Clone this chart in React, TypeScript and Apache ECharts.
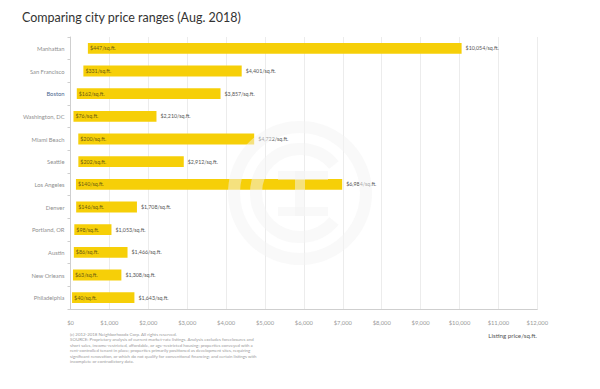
import React, { useEffect, useRef } from "react";
import * as echarts from "echarts";

const cities = [
  "Manhattan",
  "San Francisco",
  "Boston",
  "Washington, DC",
  "Miami Beach",
  "Seattle",
  "Los Angeles",
  "Denver",
  "Portland, OR",
  "Austin",
  "New Orleans",
  "Philadelphia",
];
const minPrice = [447, 331, 162, 76, 200, 202, 140, 146, 98, 86, 63, 40];
const maxPrice = [10054, 4401, 3857, 2210, 4722, 2912, 6984, 1708, 1053, 1466, 1308, 1643];
const xTicks = { min: 0, max: 12000, interval: 1000 };

const titleText = "Comparing city price ranges (Aug. 2018)";
const axisName = "Listing price/sq.ft.";
const footnote = [
  "(c) 2012-2018 Neighborhoodx Corp. All rights reserved.",
  "SOURCE: Proprietary analysis of current market-rate listings. Analysis excludes foreclosures and",
  "short sales, income-restricted, affordable, or age-restricted housing; properties conveyed with a",
  "rent-controlled tenant in place; properties primarily positioned as development sites, requiring",
  "significant renovation, or which do not qualify for conventional financing; and certain listings with",
  "incomplete or contradictory data.",
];

const FONT = "Lato, 'Noto Sans', sans-serif";
const fmt = (v: number) => "$" + v.toLocaleString("en-US");

export default function App() {
  const ref = useRef<HTMLDivElement>(null);
  useEffect(() => {
    document.body.style.margin = "0";
    if (!ref.current) return;
    const chart = echarts.init(ref.current, undefined, { renderer: "svg" });
    const wm = "rgba(244,244,244,0.5)";
    const cx = 300;
    const cy = 193;
    chart.setOption({
      animation: false,
      backgroundColor: "#fff",
      textStyle: { fontFamily: FONT },
      grid: { left: 70.5, right: 62.7, top: 37, bottom: 80 },
      xAxis: {
        type: "value",
        min: xTicks.min,
        max: xTicks.max,
        interval: xTicks.interval,
        axisLine: { show: true, lineStyle: { color: "#cfcfcf" } },
        axisTick: { show: false },
        splitLine: { show: true, lineStyle: { color: "#ececec" } },
        axisLabel: { formatter: (v: number) => fmt(v), fontSize: 5.8, color: "#9a9a9a", margin: 10 },
      },
      yAxis: {
        type: "category",
        data: cities,
        inverse: true,
        axisLine: { show: true, lineStyle: { color: "#cfcfcf" } },
        axisTick: { show: true, length: 3, lineStyle: { color: "#cfcfcf" } },
        axisLabel: {
          fontSize: 5.8,
          margin: 6,
          color: (v: string) => (v === "Boston" ? "#4a6790" : "#8f8f8f"),
        },
      },
      series: [
        {
          type: "bar",
          name: "max",
          data: maxPrice,
          barCategoryGap: "52%",
          barGap: "-100%",
          itemStyle: { color: "rgba(0,0,0,0)" },
          label: {
            show: true,
            position: "right",
            distance: 4,
            fontSize: 5.3,
            color: "#555",
            formatter: (p: any) => fmt(maxPrice[p.dataIndex]) + "/sq.ft.",
          },
          silent: true,
        },
        {
          type: "bar",
          name: "base",
          stack: "r",
          data: minPrice,
          barCategoryGap: "52%",
          itemStyle: { color: "rgba(0,0,0,0)" },
          silent: true,
        },
        {
          type: "bar",
          name: "range",
          stack: "r",
          data: maxPrice.map((m, i) => m - minPrice[i]),
          barCategoryGap: "52%",
          itemStyle: { color: "#f6cf08" },
          label: {
            show: true,
            position: "insideLeft",
            distance: 2,
            fontSize: 5.3,
            color: "#6b5a10",
            formatter: (p: any) => fmt(minPrice[p.dataIndex]) + "/sq.ft.",
          },
        },
      ],
      graphic: [
        {
          type: "text",
          left: 22,
          top: 11,
          style: { text: titleText, fontSize: 12.5, fill: "#333", fontFamily: FONT },
        },
        {
          type: "text",
          right: 63,
          top: 332,
          style: { text: axisName, fontSize: 6.2, fill: "#555", fontFamily: FONT },
        },
        {
          type: "group",
          left: 70,
          top: 332,
          children: footnote.map((t, i) => ({
            type: "text",
            x: 0,
            y: i * 5.5,
            style: { text: t, fontSize: 4.4, fill: "#9a9a9a", fontFamily: FONT },
          })),
        },
        {
          type: "ring",
          z: 100,
          silent: true,
          shape: { cx, cy, r: 72, r0: 60 },
          style: { fill: wm },
        },
        {
          type: "arc",
          z: 100,
          silent: true,
          shape: { cx, cy, r: 44, startAngle: Math.PI * 0.22, endAngle: Math.PI * 1.78, clockwise: true },
          style: { stroke: wm, lineWidth: 12, fill: "none" },
        },
        {
          type: "rect",
          z: 100,
          silent: true,
          shape: { x: cx - 22, y: cy - 22, width: 50, height: 9 },
          style: { fill: wm },
        },
        {
          type: "rect",
          z: 100,
          silent: true,
          shape: { x: cx - 22, y: cy + 14, width: 50, height: 9 },
          style: { fill: wm },
        },
        {
          type: "rect",
          z: 100,
          silent: true,
          shape: { x: cx - 5, y: cy - 22, width: 10, height: 45 },
          style: { fill: wm },
        },
      ],
    });
    return () => chart.dispose();
  }, []);
  return <div ref={ref} style={{ width: 600, height: 389 }} />;
}
